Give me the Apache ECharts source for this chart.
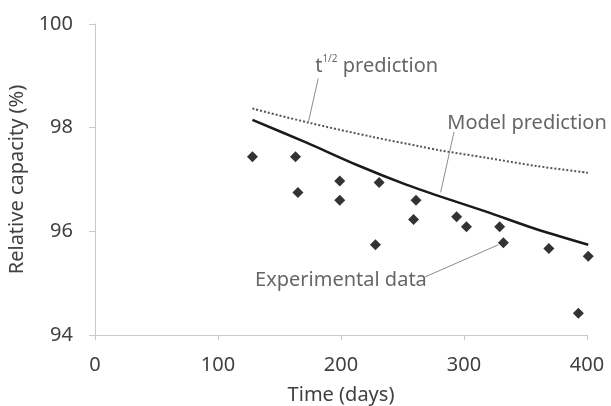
<!DOCTYPE html>
<html>
<head>
<meta charset="utf-8">
<script src="https://cdn.jsdelivr.net/npm/echarts@6/dist/echarts.min.js"></script>
<style>
html,body{margin:0;padding:0;background:#fff;}
#chart{width:611px;height:406px;}
</style>
</head>
<body>
<div id="chart"></div>
<script>
// Experimental data
const expDays = [128, 163, 165, 199, 199, 231, 228, 261, 259, 294, 302, 329, 332, 369, 401, 393];
const expCapacity = [97.44, 97.44, 96.75, 96.97, 96.60, 96.94, 95.74, 96.60, 96.23, 96.28, 96.09, 96.09, 95.78, 95.67, 95.52, 94.42];
// Model prediction
const modelDays = [128, 172, 213, 253, 281, 318, 359, 401];
const modelCapacity = [98.15, 97.71, 97.28, 96.90, 96.67, 96.38, 96.04, 95.74];
// t^1/2 prediction
const sqrtDays = [128, 173, 226, 264, 281, 318, 359, 401];
const sqrtCapacity = [98.37, 98.10, 97.82, 97.64, 97.56, 97.42, 97.26, 97.13];
// Axis ticks
const xTicks = [0, 100, 200, 300, 400];
const yTicks = [94, 96, 98, 100];
// Annotation anchors (data coordinates)
const annoSqrt = {text: [179, 99.18], lead: [[181.5, 98.95], [173.4, 98.10]]};
const annoModel = {text: [286.4, 98.08], lead: [[291.9, 97.92], [281.0, 96.75]]};
const annoExp = {text: [130.1, 95.06], lead: [[268.3, 95.12], [327.9, 95.74]]};

const FONT = 'Noto Sans';
const FS = 20;
const TXT = '#404040';
const zip = (a, b) => a.map((v, i) => [v, b[i]]);

const chart = echarts.init(document.getElementById('chart'));
const leader = (pts) => ({
  silent: true, symbol: 'none', label: {show: false},
  lineStyle: {color: '#8c8c8c', width: 1, type: 'solid'},
  emphasis: {disabled: true},
  data: [[{coord: pts[0]}, {coord: pts[1]}]]
});
const textSeries = (pos, label) => ({
  type: 'scatter', data: [pos], symbolSize: 0, silent: true, z: 10, clip: false,
  label: Object.assign({show: true, position: 'right', distance: 0, fontFamily: FONT, fontSize: FS, color: TXT}, label)
});

chart.setOption({
  animation: false,
  grid: {left: 95, right: 24, top: 24, bottom: 71, containLabel: false, outerBoundsMode: 'none'},
  xAxis: {
    type: 'value', min: xTicks[0], max: xTicks[xTicks.length - 1], interval: 100,
    name: 'Time (days)', nameLocation: 'middle', nameGap: 50,
    nameTextStyle: {fontFamily: FONT, fontSize: FS, color: TXT},
    axisLine: {show: true, lineStyle: {color: '#c8c8c8', width: 1}},
    axisTick: {show: true, length: 5, lineStyle: {color: '#c8c8c8'}},
    axisLabel: {fontFamily: FONT, fontSize: FS, color: TXT, margin: 20},
    splitLine: {show: false}
  },
  yAxis: {
    type: 'value', min: yTicks[0], max: yTicks[yTicks.length - 1], interval: 2,
    name: 'Relative capacity (%)', nameLocation: 'middle', nameGap: 64,
    nameTextStyle: {fontFamily: FONT, fontSize: FS, color: TXT},
    axisLine: {show: true, lineStyle: {color: '#c8c8c8', width: 1}},
    axisTick: {show: true, length: 6, lineStyle: {color: '#c8c8c8'}},
    axisLabel: {fontFamily: FONT, fontSize: FS, color: TXT, margin: 22},
    splitLine: {show: false}
  },
  series: [
    {
      type: 'line', data: zip(sqrtDays, sqrtCapacity), smooth: 0.3, showSymbol: false, silent: true, clip: false,
      lineStyle: {color: '#555', width: 2, type: [2, 2]}, markLine: leader(annoSqrt.lead)
    },
    {
      type: 'line', data: zip(modelDays, modelCapacity), smooth: 0.3, showSymbol: false, silent: true, clip: false,
      lineStyle: {color: '#1a1a1a', width: 2.5}, markLine: leader(annoModel.lead)
    },
    {
      type: 'scatter', data: zip(expDays, expCapacity), symbol: 'diamond', symbolSize: 11, silent: true, clip: false,
      itemStyle: {color: '#000'}, markLine: leader(annoExp.lead)
    },
    textSeries(annoSqrt.text, {
      formatter: '{t|t}{s|1/2} {p|prediction}',
      rich: {
        t: {fontFamily: FONT, fontSize: FS, color: TXT},
        s: {fontFamily: FONT, fontSize: 10, color: TXT, verticalAlign: 'top', padding: [0, 0, 14, 0]},
        p: {fontFamily: FONT, fontSize: FS, color: TXT}
      }
    }),
    textSeries(annoModel.text, {formatter: 'Model prediction'}),
    textSeries(annoExp.text, {formatter: 'Experimental data'})
  ]
});
</script>
</body>
</html>
